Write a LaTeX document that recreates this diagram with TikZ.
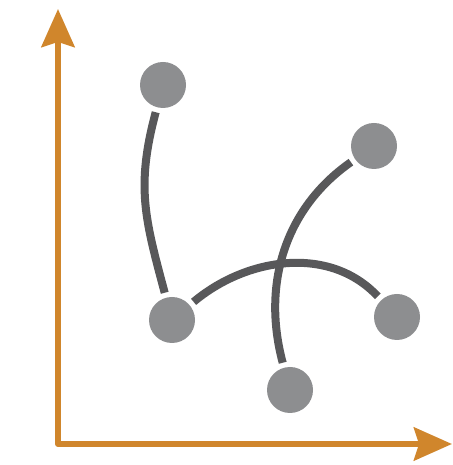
\documentclass[tikz,border=0pt]{standalone}
\usetikzlibrary{arrows.meta}
\definecolor{axisorange}{HTML}{D0862C}
\definecolor{dotgray}{HTML}{8D8E90}
\definecolor{linkgray}{HTML}{58585A}

\begin{document}
\begin{tikzpicture}[x=1pt, y=1pt,
  dot/.style={circle, fill=dotgray, minimum size=46pt, inner sep=0pt},
  link/.style={draw=linkgray, line width=8pt, shorten <=5pt, shorten >=5pt}]
\useasboundingbox (0,0) rectangle (452,465);
% axes
\coordinate (top) at (58,456);
\coordinate (origin) at (58,21);
\coordinate (right) at (452,21);
\draw[axisorange, line width=6pt, line join=round,
  {Stealth[length=38pt,width=33pt,inset=5pt]}-{Stealth[length=38pt,width=33pt,inset=5pt]}]
  (top) -- (origin) -- (right);
% vertices
\node[dot] (a) at (163,380) {};
\node[dot] (b) at (374,319) {};
\node[dot] (c) at (172,145) {};
\node[dot] (d) at (397,148) {};
\node[dot] (e) at (290,75) {};
% edges
\draw[link] (a) to[out=255, in=105, looseness=1.1] (c);
\draw[link] (b) to[out=215, in=105] (e);
\draw[link] (c) to[out=40, in=133] (d);
\end{tikzpicture}
\end{document}
